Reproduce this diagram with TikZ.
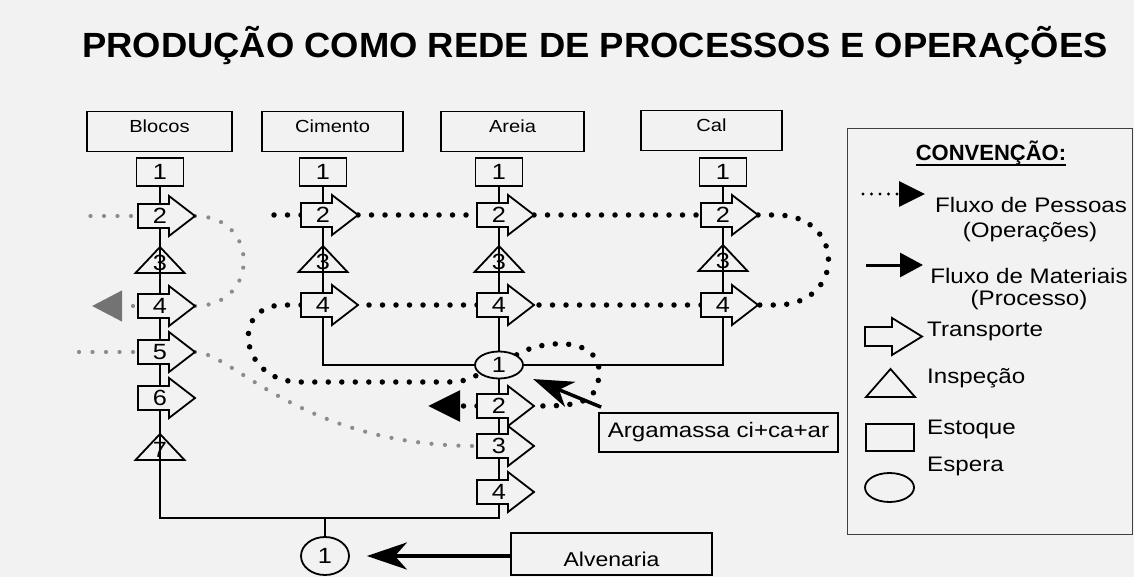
\documentclass[tikz,border=0pt]{standalone}
\usepackage{fontspec}
\setmainfont{Liberation Sans}[FakeStretch=1.15]
\newfontfamily\plainsans{Liberation Sans}
\newfontfamily\titlesans{Liberation Sans}[FakeStretch=1.04]
\usetikzlibrary{shapes.geometric,arrows.meta,calc}
\definecolor{bgc}{gray}{0.95}
\definecolor{dotgray}{gray}{0.55}
\newcommand\setfs[1]{\fontsize{#1}{#1}\selectfont}
\pgfdeclarelayer{bgl}\pgfdeclarelayer{lines}\pgfsetlayers{bgl,lines,main}
\tikzset{
 shp/.style={draw=black, line width=1.8pt, fill=bgc, line join=miter},
 trishape/.style={draw=black, line width=1.8pt, line join=miter},
 col/.style={line width=1.6pt},
 num/.style={inner sep=0pt, font=\setfs{22}},
 stockbox/.style={draw, line width=1.8pt, fill=bgc, minimum width=47pt, minimum height=28pt, inner sep=0pt, font=\setfs{22}},
 waitell/.style={ellipse, draw, line width=1.8pt, fill=bgc, minimum width=48pt, minimum height=27pt, inner sep=0pt, font=\setfs{22}},
 headbox/.style={draw, line width=1.8pt, minimum height=40pt, inner sep=0pt, font=\setfs{17.5}, text height=3pt, text depth=0pt},
 bdots/.style={line width=5.5pt, line cap=round, dash pattern=on 0pt off 13.5pt},
 gdots/.style={dotgray, line width=4.2pt, line cap=round, dash pattern=on 0pt off 13.5pt},
 ldots/.style={line width=3.2pt, line cap=round, dash pattern=on 0pt off 8.5pt},
 mat/.style={line width=3.5pt, -{Stealth[length=40pt,width=27pt,inset=12pt]}},
 lgtxt/.style={inner sep=0pt, font=\setfs{21}},
}
% transport arrow: name, column x, centre y, label
\newcommand\tarrow[4]{%
  \draw[shp] (#2-22,#3-12) -- (#2+9,#3-12) -- (#2+9,#3-20) -- (#2+35,#3) -- (#2+9,#3+20) -- (#2+9,#3+12) -- (#2-22,#3+12) -- cycle;
  \coordinate (#1-tip) at (#2+35,#3);
  \coordinate (#1-tail) at (#2-22,#3);
  \node[num] (#1) at (#2,#3) {#4};}
% inspection triangle: name, column x, apex y, label
\newcommand\ttri[4]{%
  \draw[trishape] (#2-24.5,#3+26) -- (#2,#3) -- (#2+24.5,#3+26) -- cycle;
  \node[num] (#1) at (#2,#3+16) {#4};}
\newcommand\stock[2]{\node[stockbox] (#1) at (#2,172) {1};}
\begin{document}
\begin{tikzpicture}[x=1pt,y=-1pt]
\useasboundingbox (0,0) rectangle (1134,577);
\begin{pgfonlayer}{bgl}\fill[bgc] (0,0) rectangle (1134,577);\end{pgfonlayer}

\node[anchor=base west, inner sep=0pt, font=\titlesans\bfseries\setfs{35}] (title) at (82,58) {PRODUÇÃO COMO REDE DE PROCESSOS E OPERAÇÕES};

% header boxes
\node[headbox, minimum width=145pt] (hB) at (159.5,131.5) {Blocos};
\node[headbox, minimum width=141pt] (hC) at (332.5,131.5) {Cimento};
\node[headbox, minimum width=143pt] (hA) at (512.5,131.5) {Areia};
\node[headbox, minimum width=141pt] (hL) at (711.5,130.5) {Cal};

% Blocos column
\stock{B1}{160}
\tarrow{B2}{160}{216}{2}
\ttri{B3}{160}{247}{3}
\tarrow{B4}{160}{306}{4}
\tarrow{B5}{160}{352}{5}
\tarrow{B6}{160}{398}{6}
\ttri{B7}{160}{434}{7}

% Cimento column
\stock{C1}{323}
\tarrow{C2}{323}{215}{2}
\ttri{C3}{323}{246}{3}
\tarrow{C4}{323}{305}{4}

% Areia column
\stock{A1}{499}
\tarrow{A2}{499}{215}{2}
\ttri{A3}{499}{246}{3}
\tarrow{A4}{499}{305}{4}
\node[waitell] (AE) at (499,365) {1};
\tarrow{A5}{499}{406}{2}
\tarrow{A6}{499}{446}{3}
\tarrow{A7}{499}{492}{4}

% Cal column
\stock{L1}{723}
\tarrow{L2}{723}{215}{2}
\ttri{L3}{723}{245}{3}
\tarrow{L4}{723}{305}{4}

% Alvenaria
\node[waitell, minimum height=38pt] (AlvE) at (325,556) {1};
\node[draw, line width=1.8pt, minimum width=201pt, minimum height=42pt, inner sep=0pt, font=\setfs{20}, text height=24pt, text depth=0pt] (Alv) at (611.5,554) {Alvenaria};
\node[draw, line width=1.8pt, minimum width=239pt, minimum height=39pt, inner sep=0pt, font=\setfs{21}] (Arg) at (718.5,432.5) {Argamassa ci+ca+ar};

\coordinate (Bjoin) at (160,518);
\coordinate (Ajoin) at (499,518);
\coordinate (exitA) at (428,406);
\coordinate (exitB) at (92,306);

\begin{pgfonlayer}{lines}
% material flow lines
\draw[col] (B1.south) -- (Bjoin) -- (Ajoin) -- (A1.south);
\draw[col] (AlvE.north) -- (AlvE.north |- Bjoin);
\draw[col] (C1.south) |- (AE.west);
\draw[col] (L1.south) |- (AE.east);
% black people flow
\draw[bdots] (C2-tail) -- ++(-40,0);
\draw[bdots] (C2-tip) -- (A2-tail);
\draw[bdots] (A2-tip) -- (L2-tail);
\draw[bdots] (L2-tip) -- ++(18,0) .. controls +(70,0) and +(70,0) .. ($(L4-tip)+(18,0)$) -- (L4-tip);
\draw[bdots] (L4-tail) -- (A4-tip);
\draw[bdots] (A4-tail) -- (C4-tip);
\draw[bdots] (C4-tail) -- ++(-17,0) .. controls +(-55,0) and +(-60,0) .. (300,382) -- (440,382) .. controls (462,382) .. (AE.205);
\draw[bdots] (AE.30) .. controls (545,338) and (600,338) .. (599,372) .. controls (599,405) and (575,406) .. (A5-tip);
\draw[bdots, -{Triangle[length=32pt,width=30pt]}] (A5-tail) -- (exitA);
% gray people flow
\draw[gdots] ($(B2-tail)+(-7,0)$) -- ++(-45,0);
\draw[gdots] (B2-tip) .. controls +(65,0) and +(65,0) .. (B4-tip);
\draw[gdots, -{Triangle[length=30pt,width=30pt,color=black!55]}] ($(B4-tail)+(-5,0)$) -- (exitB);
\draw[gdots] ($(B5-tail)+(-5,0)$) -- ++(-60,0);
\draw[gdots] (B5-tip) .. controls +(37,0) and +(-176,0) .. (A6-tail);
% material arrows
\draw[mat, shorten >=15pt] ($(Arg.north west)+(3,-5)$) -- (AE);
\draw[mat, shorten >=17pt] ($(Alv.west)+(0,2)$) -- (AlvE);
\end{pgfonlayer}

% legend
\draw[black!75, line width=1pt] (847,129) rectangle (1132,534);
\node[inner sep=0pt, anchor=base, font=\plainsans\bfseries\setfs{22}] (conv) at (991,161) {CONVENÇÃO:};
\draw[line width=1.4pt] ($(conv.base west)+(0,4)$) -- ($(conv.base east)+(0,4)$);
\coordinate (lgA) at (863,194);
\coordinate (lgB) at (925,194);
\draw[ldots, -{Triangle[length=26pt,width=25pt]}] (lgA) -- (lgB);
\coordinate (lgC) at (866,265);
\coordinate (lgD) at (923,265);
\draw[line width=3pt, -{Triangle[length=23pt,width=24pt]}] (lgC) -- (lgD);
\node[lgtxt, anchor=base] (t1) at (1031,213) {Fluxo de Pessoas};
\node[lgtxt, anchor=base] (t2) at (1030,238) {(Operações)};
\node[lgtxt, anchor=base] (t3) at (1029,283) {Fluxo de Materiais};
\node[lgtxt, anchor=base] (t4) at (1029,305) {(Processo)};
\draw[shp] (865,327) -- (892,327) -- (892,318) -- (922,336.5) -- (892,355) -- (892,346) -- (865,346) -- cycle;
\node[lgtxt, anchor=base west] (t5) at (927,336) {Transporte};
\draw[trishape] (866,397) -- (890.5,369) -- (915,397) -- cycle;
\node[lgtxt, anchor=base west] (t6) at (927,383) {Inspeção};
\node[draw, line width=1.8pt, minimum width=48pt, minimum height=27pt, inner sep=0pt] (lgR) at (890,437.5) {};
\node[lgtxt, anchor=base west] (t7) at (927,434) {Estoque};
\node[lgtxt, anchor=base west] (t8) at (927,471) {Espera};
\node[ellipse, draw, line width=1.8pt, minimum width=49pt, minimum height=29pt, inner sep=0pt] (lgE) at (889.5,487.5) {};
\end{tikzpicture}
\end{document}
